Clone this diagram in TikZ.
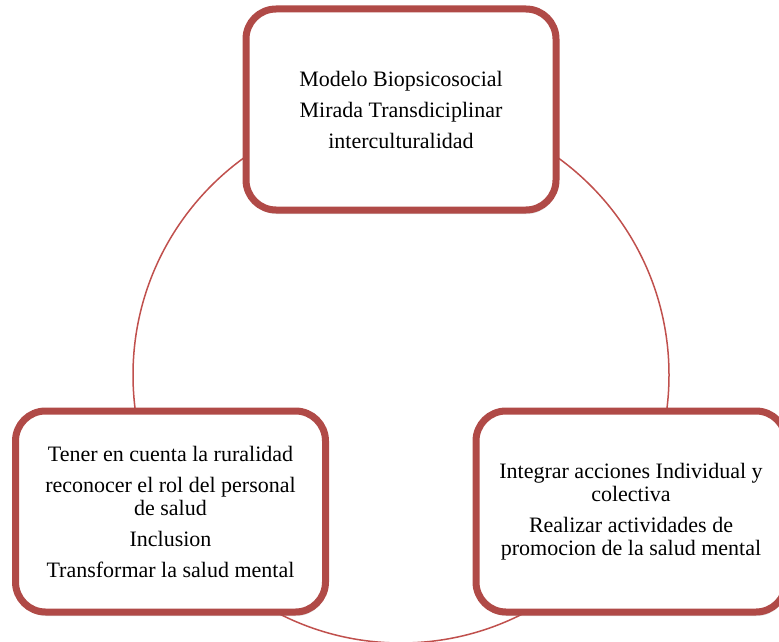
\documentclass[tikz,border=0pt]{standalone}
\usepackage{fontspec}
\setmainfont{Liberation Serif}
\usetikzlibrary{shadows}
\definecolor{boxred}{RGB}{176,74,71}
\definecolor{ringred}{RGB}{192,80,77}
\tikzset{
    cyclebox/.style={draw=boxred, line width=7pt, rounded corners=30pt, fill=white,
        minimum width=310pt, minimum height=201pt, align=center,
        font=\fontsize{22}{23}\selectfont,
        drop shadow={opacity=0.25, shadow xshift=1pt, shadow yshift=-4pt}},
    ring/.style={draw=ringred, line width=1.5pt}
}
\begin{document}
\begin{tikzpicture}[x=1pt,y=-1pt]
    \useasboundingbox (0,0) rectangle (779,642);
    \coordinate (mid) at (401,375);
    \draw[ring] (mid) circle [radius=268pt];
    \node[cyclebox] (modelo) at (401,109.5)
        {Modelo Biopsicosocial\\[8pt]Mirada Transdiciplinar\\[8pt]interculturalidad};
    \node[cyclebox] (ruralidad) at (170.5,511.5)
        {Tener en cuenta la ruralidad\\[8pt]reconocer el rol del personal\\de salud\\[8pt]Inclusion\\[8pt]Transformar la salud mental};
    \node[cyclebox] (acciones) at (631,511.5)
        {Integrar acciones Individual y\\colectiva\\[8pt]Realizar actividades de\\promocion de la salud mental};
\end{tikzpicture}
\end{document}
